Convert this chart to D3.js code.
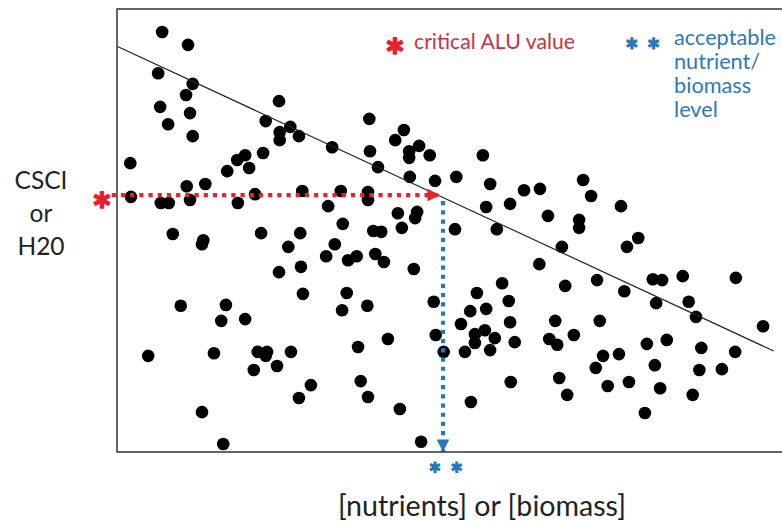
<!DOCTYPE html>
<html>
<head>
<meta charset="utf-8">
<script src="https://cdn.jsdelivr.net/npm/d3@7"></script>
<style>
  body { margin: 0; background: #fff; }
  svg { display: block; }
  text { font-family: Lato, "Open Sans", sans-serif; }
</style>
</head>
<body>
<div id="plot"></div>
<script>
// scatter points, x = [nutrients] or [biomass], y = CSCI or H20 (arbitrary 0-100 units)
const xs = [6.8, 10.7, 6.2, 11.4, 10.4, 6.5, 11.0, 7.7, 11.4, 24.4, 22.4, 24.5, 26.1, 24.5, 27.4, 32.4, 2.0, 22.0, 19.3, 18.1,
    19.9, 16.6, 38.0, 43.2, 41.9, 45.5, 38.1, 44.0, 44.0, 47.1, 55.1, 39.3, 10.5, 13.3, 2.1, 6.6, 7.8, 11.0, 18.2, 20.8,
    27.9, 33.7, 31.8, 8.4, 13.0, 12.8, 21.7, 27.6, 34.0, 25.8, 32.8, 31.5, 34.8, 24.4, 27.7, 28.0, 34.6, 9.6, 16.4, 33.9,
    44.1, 47.9, 51.1, 56.2, 61.3, 63.7, 37.8, 37.8, 42.3, 45.2, 44.9, 55.6, 59.2, 64.9, 38.6, 39.8, 42.9, 50.9, 57.2, 67.0,
    36.1, 38.9, 40.2, 44.7, 63.6, 58.0, 67.5, 37.7, 47.7, 59.0, 55.6, 53.2, 70.2, 71.4, 75.9, 69.6, 69.6, 78.5, 76.8, 72.3,
    76.4, 80.7, 82.1, 85.2, 93.2, 81.2, 86.1, 15.7, 19.3, 4.7, 14.6, 21.2, 22.6, 22.4, 26.2, 20.6, 24.1, 29.2, 27.4, 12.8,
    16.0, 51.8, 59.2, 66.0, 48.0, 53.9, 55.4, 53.9, 56.9, 59.9, 65.1, 66.3, 68.8, 40.8, 36.3, 49.2, 52.4, 56.2, 36.7, 37.8,
    42.6, 53.3, 59.3, 66.6, 67.8, 45.8, 87.2, 97.3, 72.7, 79.8, 82.8, 88.0, 93.1, 73.2, 75.6, 72.1, 81.0, 87.7, 91.1, 73.9,
    77.1, 81.8, 86.7, 79.5, 54.2];
const ys = [94.8, 91.9, 85.5, 83.1, 80.6, 77.9, 76.5, 74.0, 71.3, 79.2, 74.7, 72.2, 73.4, 70.4, 71.3, 68.8, 65.2, 67.5, 67.0, 65.9,
    64.1, 63.4, 75.2, 72.7, 70.4, 69.1, 67.9, 67.9, 66.4, 67.0, 67.0, 64.3, 60.0, 60.5, 57.6, 56.2, 56.2, 56.9, 56.2, 58.2,
    58.9, 58.9, 55.5, 49.2, 47.8, 46.9, 49.4, 49.4, 51.5, 46.3, 46.9, 44.2, 43.3, 40.6, 41.8, 35.7, 35.9, 33.0, 33.2, 32.0,
    62.1, 61.2, 62.1, 60.5, 59.1, 59.4, 58.7, 56.9, 53.9, 54.2, 52.8, 55.3, 56.0, 53.3, 49.9, 49.7, 50.6, 50.3, 50.3, 46.3,
    44.2, 44.7, 42.9, 41.3, 42.4, 38.1, 37.5, 33.0, 33.9, 34.1, 32.3, 31.8, 61.4, 57.8, 55.5, 52.4, 50.6, 48.3, 46.3, 38.8,
    36.3, 39.0, 38.8, 39.7, 39.3, 33.6, 33.9, 29.6, 30.0, 21.7, 22.3, 22.6, 22.6, 21.7, 22.6, 18.5, 19.4, 15.1, 12.2, 9.0,
    1.8, 28.9, 29.3, 29.6, 26.4, 26.6, 27.5, 24.6, 25.7, 24.8, 25.5, 24.2, 26.4, 25.5, 23.7, 22.6, 22.6, 23.0, 16.0, 12.4,
    9.7, 11.3, 15.8, 16.7, 12.9, 2.3, 30.5, 28.4, 29.6, 24.4, 25.3, 23.5, 22.6, 21.7, 22.1, 19.0, 19.6, 18.5, 18.7, 14.9,
    15.8, 14.4, 12.9, 8.8, 35.9];

// trend line end points
const trendX = [0, 98.9];
const trendY = [91.6, 22.8];

// critical ALU value and the acceptable nutrient level it gives
const criticalX = 48.8;
const criticalY = 58.0;

// texts
const yLabel = ["CSCI", "or", "H20"];
const xLabel = "[nutrients] or [biomass]";
const aluLabel = "critical ALU value";
const levelLabel = ["acceptable", "nutrient/", "biomass", "level"];

const red = "#e8212f",
    redText = "#c8323f",
    blue = "#2677bb",
    blueText = "#2f78b8";

// Declare the chart dimensions.
const W = 782, H = 521;
const margin = { top: 9, right: 1, bottom: 69, left: 117 };

const x = d3.scaleLinear().domain([0, 100]).range([margin.left, W - margin.right]);
const y = d3.scaleLinear().domain([0, 100]).range([H - margin.bottom, margin.top]);

const svg = d3.select("#plot").append("svg")
    .attr("width", W)
    .attr("height", H);

// arrow heads
const defs = svg.append("defs");
[["arrRed", red], ["arrBlue", blue]].forEach(([id, c]) => {
    defs.append("marker")
        .attr("id", id)
        .attr("viewBox", "0 0 10 10")
        .attr("refX", 10).attr("refY", 5)
        .attr("markerWidth", 3).attr("markerHeight", 3)
        .attr("markerUnits", "strokeWidth")
        .attr("orient", "auto")
        .append("path")
        .attr("d", "M0,0L10,5L0,10Z")
        .attr("fill", c);
});

// dots
svg.append("g")
    .selectAll("circle")
    .data(d3.zip(xs, ys))
    .join("circle")
    .attr("cx", d => x(d[0]))
    .attr("cy", d => y(d[1]))
    .attr("r", 6.3)
    .attr("fill", "#000");

// trend line
svg.append("path")
    .datum(d3.zip(trendX, trendY))
    .attr("d", d3.line().x(d => x(d[0])).y(d => y(d[1])))
    .attr("stroke", "#222")
    .attr("stroke-width", 1.2)
    .attr("fill", "none");

// dotted arrows
svg.append("line")
    .attr("x1", x(-0.8)).attr("x2", x(criticalX) - 1)
    .attr("y1", y(criticalY)).attr("y2", y(criticalY))
    .attr("stroke", red)
    .attr("stroke-width", 4.2)
    .attr("stroke-dasharray", "4.2,5")
    .attr("marker-end", "url(#arrRed)");

svg.append("line")
    .attr("x1", x(criticalX) + 2).attr("x2", x(criticalX) + 2)
    .attr("y1", y(criticalY) + 6).attr("y2", y(0))
    .attr("stroke", blue)
    .attr("stroke-width", 4.2)
    .attr("stroke-dasharray", "4.2,5")
    .attr("marker-end", "url(#arrBlue)");

// frame (right side runs off the picture)
svg.append("rect")
    .attr("x", x(0)).attr("y", y(100))
    .attr("width", W + 20 - x(0)).attr("height", y(0) - y(100))
    .attr("fill", "none")
    .attr("stroke", "#404040")
    .attr("stroke-width", 1.6);

// shrink/grow a text to a target width
function fit(sel, w) {
    const fs = parseFloat(sel.attr("font-size"));
    const len = sel.node().getComputedTextLength();
    sel.attr("font-size", fs * w / len);
    return sel;
}

// y label
const yl = yLabel.map((t, i) => svg.append("text")
    .attr("x", 41).attr("y", 189 + i * 33)
    .attr("text-anchor", "middle")
    .attr("font-size", 22)
    .attr("fill", "#222")
    .text(t));
fit(yl[0], 53);
yl.forEach(s => s.attr("font-size", yl[0].attr("font-size")));

// x label
fit(svg.append("text")
    .attr("x", 482).attr("y", 515.5)
    .attr("text-anchor", "middle")
    .attr("font-size", 21)
    .attr("fill", "#222")
    .text(xLabel), 288);

// asterisks, thickened a little with a stroke of their own colour
function star(sx, sy, c, n, size, ls, sw) {
    svg.append("text")
        .attr("x", sx).attr("y", sy)
        .attr("text-anchor", "middle")
        .attr("font-family", "Roboto")
        .attr("font-size", size)
        .attr("font-weight", "bold")
        .attr("letter-spacing", ls)
        .attr("fill", c)
        .attr("stroke", c)
        .attr("stroke-width", sw)
        .attr("stroke-linejoin", "round")
        .text(n);
}
star(102, 228, red, "*", 48, 0, 1.6);
star(395, 74, red, "*", 48, 0, 1.6);
star(646.8, 63, blue, "**", 32, 8.2, 1.2);
star(450.3, 485, blue, "**", 30, 9.1, 1.2);

// critical ALU label
fit(svg.append("text")
    .attr("x", 414).attr("y", 49)
    .attr("font-size", 18)
    .attr("fill", redText)
    .text(aluLabel), 161);

// acceptable level label
const ll = levelLabel.map((t, i) => svg.append("text")
    .attr("x", 674).attr("y", 45 + i * 24)
    .attr("font-size", 19)
    .attr("fill", blueText)
    .text(t));
fit(ll[0], 102);
ll.forEach(s => s.attr("font-size", ll[0].attr("font-size")));
</script>
</body>
</html>
